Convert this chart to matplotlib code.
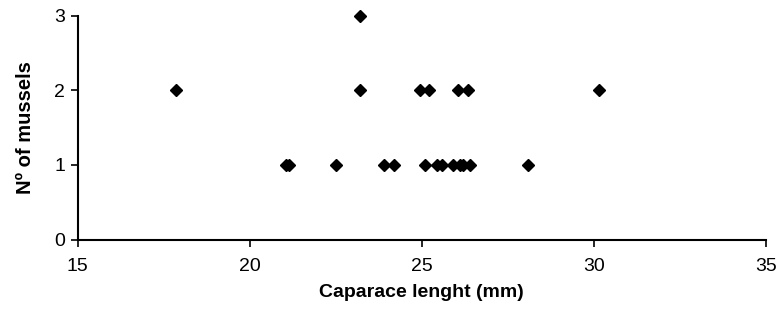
import matplotlib.pyplot as plt

plt.rcParams['font.family'] = ['Liberation Sans', 'DejaVu Sans']

# carapace length (mm) and number of mussels
length = [17.85, 23.2, 23.2, 24.95, 25.2, 26.05, 26.35, 30.15,
          21.05, 21.15, 22.5, 23.9, 24.2, 25.1, 25.45, 25.6, 25.9, 26.1, 26.2, 26.4, 28.1]
mussels = [2, 3, 2, 2, 2, 2, 2, 2,
           1, 1, 1, 1, 1, 1, 1, 1, 1, 1, 1, 1, 1]
xticks = [15, 20, 25, 30, 35]
yticks = [0, 1, 2, 3]

fig = plt.figure(figsize=(7.78, 3.15), dpi=100)
ax = fig.add_axes([77.5/778, 75.5/315, 688.5/778, 224/315])
ax.plot(length, mussels, 'D', color='black', markersize=6.2, clip_on=False)

ax.set_xlim(15, 35)
ax.set_ylim(0, 3)
ax.set_xticks(xticks)
ax.set_yticks(yticks)
ax.spines['top'].set_visible(False)
ax.spines['right'].set_visible(False)
for s in ['left', 'bottom']:
    ax.spines[s].set_linewidth(1.5)
ax.tick_params(width=1.2, length=5, labelsize=14, direction='out')
ax.tick_params(axis='x', pad=8)
ax.tick_params(axis='y', pad=4)
ax.set_xlabel("Caparace lenght (mm)", fontsize=14, fontweight='bold', labelpad=7)
ax.set_ylabel("Nº of mussels", fontsize=14.5, fontweight='bold', labelpad=14)

plt.savefig("out.png")
